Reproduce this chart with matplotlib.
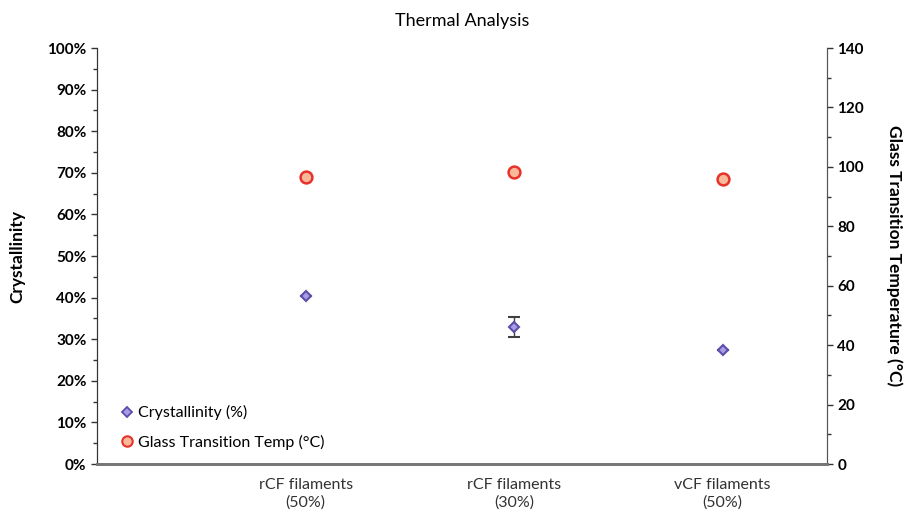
import matplotlib.pyplot as plt
from matplotlib.lines import Line2D
from matplotlib.ticker import MultipleLocator, PercentFormatter

plt.rcParams['font.family'] = ['Lato', 'DejaVu Sans']

# data
categories = ["rCF filaments\n(50%)", "rCF filaments\n(30%)", "vCF filaments\n(50%)"]
x_pos = [1, 2, 3]
crystallinity = [40.4, 32.9, 27.3]
crystallinity_err = [0.0, 2.4, 0.0]
glass_temp = [96.7, 98.3, 95.8]

diamond_style = dict(marker="D", ms=5.5, mfc="#a99be6", mec="#5a4ea8", mew=1.5, ls="none")
circle_style = dict(marker="o", ms=8.5, mfc="#f8b89a", mec="#e8312a", mew=1.8, ls="none")

fig = plt.figure(figsize=(9.09, 5.19), dpi=100)
ax = fig.add_axes([97 / 909, 1 - 464 / 519, (827 - 97) / 909, (464 - 48) / 519])
ax2 = ax.twinx()

ax.errorbar(x_pos, crystallinity, yerr=crystallinity_err, ecolor="#404040",
            elinewidth=1, capsize=4, capthick=1, zorder=3, **diamond_style)
ax2.plot(x_pos, glass_temp, zorder=3, **circle_style)

ax.set_xlim(0, 3.5)
ax.set_ylim(0, 100)
ax2.set_ylim(0, 140)
ax.set_xticks(x_pos)
ax.set_xticklabels(categories, fontsize=11.5, color="#333333", linespacing=1.3)
ax.tick_params(axis="x", length=0, pad=10)

ax.yaxis.set_major_locator(MultipleLocator(10))
ax.yaxis.set_minor_locator(MultipleLocator(5))
ax.yaxis.set_major_formatter(PercentFormatter(decimals=0))
ax2.yaxis.set_major_locator(MultipleLocator(20))
ax2.yaxis.set_minor_locator(MultipleLocator(10))
for a in (ax, ax2):
    a.tick_params(axis="y", which="major", length=4, width=1, labelsize=11, color="#333333")
    a.tick_params(axis="y", which="minor", length=3, width=1, color="#333333")
    for lbl in a.get_yticklabels():
        lbl.set_fontweight("bold")

ax.set_ylabel("Crystallinity", fontsize=12.5, fontweight="bold", labelpad=16)
ax2.set_ylabel("Glass Transition Temperature (°C)", fontsize=12.5, fontweight="bold",
               rotation=270, labelpad=28)
ax.set_title("Thermal Analysis", fontsize=13, pad=16)

for a in (ax, ax2):
    a.spines["top"].set_visible(False)
    a.spines["left"].set_color("#333333")
    a.spines["right"].set_color("#555555")
    a.spines["bottom"].set_color("#777777")
    a.spines["bottom"].set_linewidth(2)

handles = [Line2D([], [], **{**diamond_style, "ms": 5, "mew": 1.3}),
           Line2D([], [], **{**circle_style, "ms": 7.5, "mew": 1.5})]
labels = ["Crystallinity (%)", "Glass Transition Temp (°C)"]
ax2.legend(handles, labels, loc="lower left", frameon=False, fontsize=11.5,
           handletextpad=0.1, handlelength=1.2, borderaxespad=0.5, labelspacing=0.9,
           bbox_to_anchor=(0.008, 0))

fig.savefig("out.png", dpi=100)
